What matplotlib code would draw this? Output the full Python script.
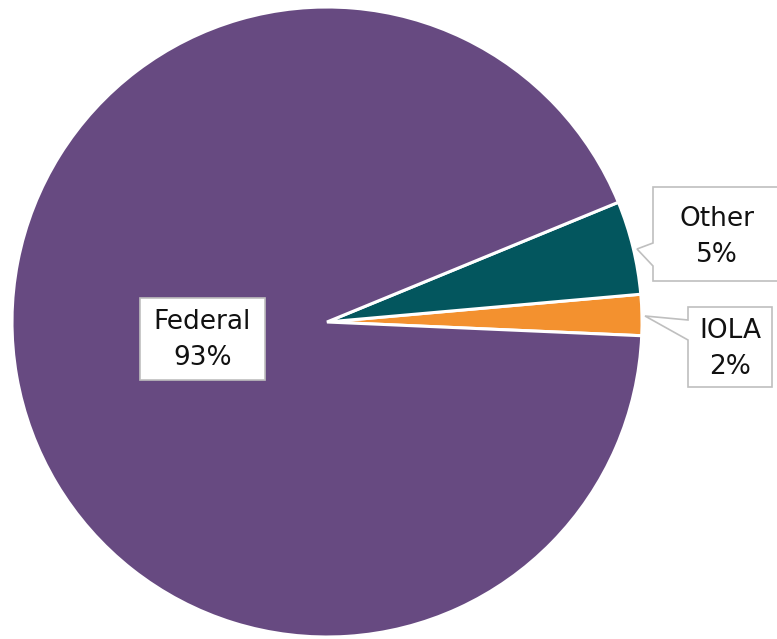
import matplotlib
matplotlib.use("Agg")
import matplotlib.pyplot as plt
from matplotlib.patches import Polygon

categories = ["IOLA", "Other", "Federal"]
values = [2.1, 4.8, 93.1]
colors = ["#F3912F", "#03565E", "#674A81"]

W, H = 777, 639
fig = plt.figure(figsize=(W / 100, H / 100), dpi=100)
ax = fig.add_axes([0, 0, 1, 1])
ax.set_xlim(0, W)
ax.set_ylim(0, H)
ax.set_aspect("equal")
ax.axis("off")

def Y(y):
    return H - y

cx, cy, r = 327, 322, 315
wedges, _ = ax.pie(values, colors=colors, startangle=-2.5, counterclock=True,
                   center=(cx, Y(cy)), radius=r, frame=True,
                   wedgeprops=dict(edgecolor="white", linewidth=2.2))
ax.set_xlim(0, W)
ax.set_ylim(0, H)
ax.axis("off")

total = sum(values)
labels = {c: f"{c}\n{round(v / total * 100):d}%" for c, v in zip(categories, values)}

font = dict(family=["DejaVu Sans"], fontsize=19, color="#111111",
            ha="center", va="center", linespacing=1.5)

def callout(x0, y0, x1, y1, tip=None, base=None):
    pts = [(x0, y0), (x1, y0), (x1, y1), (x0, y1)]
    if tip is not None:
        pts += [(x0, base[1]), tip, (x0, base[0])]
    poly = Polygon([(px, Y(py)) for px, py in pts], closed=True,
                   facecolor="white", edgecolor="#BFBFBF", linewidth=1.2, zorder=5)
    ax.add_patch(poly)

# Federal
callout(140, 298, 265, 380)
ax.text(202.5, Y(340), labels["Federal"], zorder=6, **font)
# Other
callout(653, 187, 780, 281, tip=(637, 249), base=(243, 266))
ax.text(717, Y(236.5), labels["Other"], zorder=6, **font)
# IOLA
callout(688, 307, 772, 387, tip=(645, 316), base=(320, 340))
ax.text(730, Y(348.5), labels["IOLA"], zorder=6, **font)

fig.savefig("out.png", dpi=100)
